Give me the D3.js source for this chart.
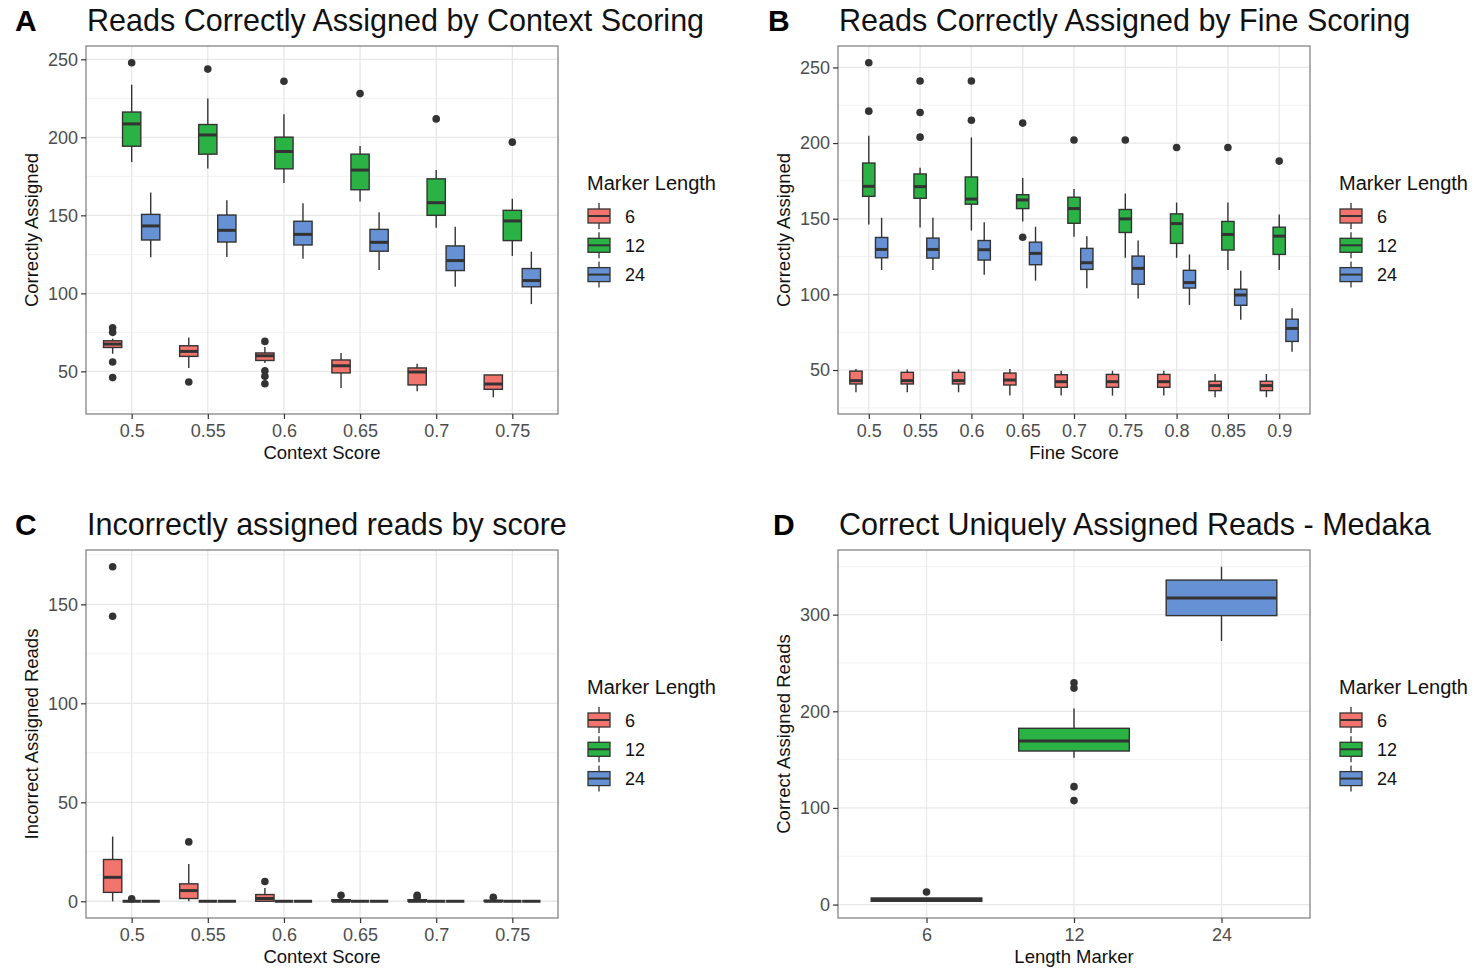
<!DOCTYPE html>
<html>
<head>
<meta charset="utf-8">
<script src="https://cdn.jsdelivr.net/npm/d3@7"></script>
<style>
body { margin: 0; background: #fff; }
text { font-family: "Liberation Sans", Arial, sans-serif; }
</style>
</head>
<body>
<svg id="chart" width="1476" height="969"></svg>
<script>
// categories
var contextScores = ["0.5", "0.55", "0.6", "0.65", "0.7", "0.75"];
var fineScores = ["0.5", "0.55", "0.6", "0.65", "0.7", "0.75", "0.8", "0.85", "0.9"];
var markerLengths = ["6", "12", "24"];

// box stats: [lower whisker, q1, median, q3, upper whisker]
// A - correctly assigned by context score
var ctxCorrect6 = [[61.3, 65.3, 67.5, 69.6, 70.9], [52.2, 59.6, 62.8, 66.4, 71.7], [55.4, 57, 60, 61.8, 65.6],
    [39.4, 49, 53.6, 57.3, 61.8], [37.2, 41.3, 49.6, 52.2, 54.9], [33.4, 38.5, 41.9, 47.7, 47.7]];
var ctxCorrect12 = [[184.1, 194.3, 208.6, 216.2, 233.7], [180, 189.2, 201.5, 208.2, 224.8], [170.8, 179.8, 190.9, 200.1, 214.8],
    [158.9, 166.4, 179, 189.2, 194.5], [142.1, 150, 158.1, 173.4, 179], [124, 133.8, 146.4, 153.2, 160.6]];
var ctxCorrect24 = [[123.1, 134.2, 143.2, 150.6, 164.7], [123.3, 132.9, 140.4, 150.2, 159.6], [122.1, 131, 137.8, 146.2, 157.7],
    [115, 127, 132.7, 141, 151.9], [104.3, 114.6, 121, 130.4, 142.7], [93.1, 104.2, 108.2, 115.9, 126.7]];
// outliers: [score, marker, value]
var ctxCorrectOut = [["0.5", "6", 78], ["0.5", "6", 75], ["0.5", "6", 56], ["0.5", "6", 46], ["0.55", "6", 43.2],
    ["0.6", "6", 69.2], ["0.6", "6", 50.4], ["0.6", "6", 46.8], ["0.6", "6", 42.1],
    ["0.5", "12", 247.8], ["0.55", "12", 243.7], ["0.6", "12", 235.9], ["0.65", "12", 228], ["0.7", "12", 211.8], ["0.75", "12", 196.9]];

// B - correctly assigned by fine score
var fineCorrect6 = [[35.3, 40.8, 43, 49.3, 50.7], [35.3, 40.8, 43, 48.5, 50.4], [35.3, 40.8, 43, 48.5, 50.4],
    [33.1, 40.1, 43.4, 48, 50.7], [33.1, 38.6, 42.3, 46.9, 49.5], [33.1, 38.6, 42.3, 47.1, 49.5],
    [33.1, 38.6, 42.3, 47.1, 49.5], [32, 36.4, 39.7, 42.6, 47.4], [32, 36.4, 39.7, 42.6, 47.4]];
var fineCorrect12 = [[146.2, 164.8, 171.4, 186.8, 204.8], [144.2, 163.5, 171.2, 179.6, 183.7], [142.2, 159.6, 163, 177.6, 203.7],
    [148.2, 156.7, 162.4, 165.9, 176.9], [138.1, 147, 156.7, 164.2, 169.7], [124.2, 140.9, 149.9, 156.1, 166.6],
    [124.2, 133.7, 146.8, 153.2, 160.7], [116.1, 129.3, 139.6, 148.2, 160.7], [116.1, 126.4, 138.5, 144.4, 152.8]];
var fineCorrect24 = [[116.1, 124.2, 129.7, 137.6, 150.6], [116.1, 124, 129.7, 137.2, 150.6], [113, 122.7, 129.5, 135.6, 147.7],
    [109.1, 119.6, 127.1, 134.5, 144.7], [104, 116.5, 120.9, 130.4, 138.5], [97.2, 106.7, 117.2, 125.3, 135.6],
    [93, 104.2, 107.8, 115.9, 126.4], [83.2, 92.8, 99.6, 103.4, 115.7], [62.1, 68.9, 77.5, 83.6, 90.8]];
var fineCorrectOut = [["0.5", "12", 253.1], ["0.5", "12", 221.1], ["0.55", "12", 241], ["0.55", "12", 220.2], ["0.55", "12", 203.9],
    ["0.6", "12", 241], ["0.6", "12", 215.1], ["0.65", "12", 213.2], ["0.65", "12", 137.8], ["0.7", "12", 202],
    ["0.75", "12", 202], ["0.8", "12", 197.1], ["0.85", "12", 197.1], ["0.9", "12", 188.1]];

// C - incorrectly assigned by context score
var ctxWrong6 = [[0, 4.5, 12.1, 21.1, 32.7], [0, 1.4, 5.4, 8.8, 18.8], [0, 0, 1.4, 3.4, 6.7],
    [0, 0, 0, 0.8, 1.5], [0, 0, 0, 0.8, 1.5], [0, 0, 0, 0.5, 1]];
var ctxWrong12 = [[0, 0, 0, 0, 0], [0, 0, 0, 0, 0], [0, 0, 0, 0, 0], [0, 0, 0, 0, 0], [0, 0, 0, 0, 0], [0, 0, 0, 0, 0]];
var ctxWrong24 = [[0, 0, 0, 0, 0], [0, 0, 0, 0, 0], [0, 0, 0, 0, 0], [0, 0, 0, 0, 0], [0, 0, 0, 0, 0], [0, 0, 0, 0, 0]];
var ctxWrongOut = [["0.5", "6", 169], ["0.5", "6", 144], ["0.5", "12", 1.2], ["0.55", "6", 30], ["0.6", "6", 10],
    ["0.65", "6", 3], ["0.7", "6", 3], ["0.7", "6", 2], ["0.75", "6", 2]];

// D - correct uniquely assigned, medaka (one box per marker length)
var medakaStats = [[3.4, 3.4, 5.2, 6.8, 6.8], [152, 158.9, 169.3, 182.4, 202.8], [272.7, 299, 317.2, 335.8, 349.6]];
var medakaOut = [["6", "6", 13], ["12", "12", 229.6], ["12", "12", 224], ["12", "12", 122], ["12", "12", 107.6]];

// tick labels
var ticksA = [50, 100, 150, 200, 250];
var ticksB = [50, 100, 150, 200, 250];
var ticksC = [0, 50, 100, 150];
var ticksD = [0, 100, 200, 300];

var fills = ["#F2756D", "#2BB244", "#6691D4"];
var dark = "#333333";

var svg = d3.select("#chart");
svg.append("rect").attr("width", 1476).attr("height", 969).attr("fill", "#fff");

function drawPanel(o) {
    var left = o.left, top = o.top, w = 472, h = 368;
    var g = svg.append("g");

    var allVals = [];
    o.series.forEach(s => s.forEach(b => allVals.push(b[0], b[4])));
    o.outliers.forEach(p => allVals.push(p[2]));
    var lo = d3.min(allVals), hi = d3.max(allVals), pad = (hi - lo) * 0.05;

    var y = d3.scaleLinear().domain([lo - pad, hi + pad]).range([top + h, top]);
    var x = d3.scalePoint().domain(o.categories).range([left, left + w]).padding(0.6);
    var step = x.step();

    // grid
    var minor = [];
    for (var i = 0; i < o.ticks.length + 1; i++) {
        var t0 = o.ticks[0] + (i - 0.5) * (o.ticks[1] - o.ticks[0]);
        if (t0 > y.domain()[0] && t0 < y.domain()[1]) minor.push(t0);
    }
    g.selectAll(".minor").data(minor).enter().append("line")
        .attr("x1", left).attr("x2", left + w).attr("y1", d => y(d)).attr("y2", d => y(d))
        .attr("stroke", "#f2f2f2").attr("stroke-width", 1);
    g.selectAll(".major").data(o.ticks).enter().append("line")
        .attr("x1", left).attr("x2", left + w).attr("y1", d => y(d)).attr("y2", d => y(d))
        .attr("stroke", "#e8e8e8").attr("stroke-width", 1.3);
    g.selectAll(".vmajor").data(o.categories).enter().append("line")
        .attr("x1", d => x(d)).attr("x2", d => x(d)).attr("y1", top).attr("y2", top + h)
        .attr("stroke", "#e8e8e8").attr("stroke-width", 1.3);

    // boxes
    var boxes = [];
    o.series.forEach((s, si) => s.forEach((b, ci) => {
        var gi = o.dodge ? si : ci;
        var off = o.dodge ? (si - 1) * 0.25 * step : 0;
        boxes.push({cx: x(o.categories[ci]) + off, bw: o.dodge ? 0.24 * step : 0.75 * step, s: b, fill: fills[gi]});
    }));

    var bg = g.selectAll(".box").data(boxes).enter().append("g");
    bg.append("line").attr("x1", d => d.cx).attr("x2", d => d.cx)
        .attr("y1", d => y(d.s[4])).attr("y2", d => y(d.s[3])).attr("stroke", dark).attr("stroke-width", 1.4);
    bg.append("line").attr("x1", d => d.cx).attr("x2", d => d.cx)
        .attr("y1", d => y(d.s[1])).attr("y2", d => y(d.s[0])).attr("stroke", dark).attr("stroke-width", 1.4);
    bg.append("rect").attr("x", d => d.cx - d.bw / 2).attr("width", d => d.bw)
        .attr("y", d => y(d.s[3])).attr("height", d => y(d.s[1]) - y(d.s[3]))
        .attr("fill", d => d.fill).attr("stroke", dark).attr("stroke-width", 1.4);
    bg.append("line").attr("x1", d => d.cx - d.bw / 2).attr("x2", d => d.cx + d.bw / 2)
        .attr("y1", d => y(d.s[2])).attr("y2", d => y(d.s[2])).attr("stroke", dark).attr("stroke-width", 3);

    // outliers
    g.selectAll(".out").data(o.outliers).enter().append("circle")
        .attr("cx", d => x(d[0]) + (o.dodge ? (markerLengths.indexOf(d[1]) - 1) * 0.25 * step : 0))
        .attr("cy", d => y(d[2])).attr("r", 3.8).attr("fill", dark);

    // border
    g.append("rect").attr("x", left).attr("y", top).attr("width", w).attr("height", h)
        .attr("fill", "none").attr("stroke", "#7a7a7a").attr("stroke-width", 1.2);

    // axes
    var yAxis = g.append("g").attr("transform", `translate(${left},0)`)
        .call(d3.axisLeft(y).tickValues(o.ticks).tickSize(5).tickPadding(3));
    var xAxis = g.append("g").attr("transform", `translate(0,${top + h})`)
        .call(d3.axisBottom(x).tickSize(5).tickPadding(5));
    [yAxis, xAxis].forEach(a => {
        a.select(".domain").remove();
        a.selectAll(".tick line").attr("stroke", dark).attr("stroke-width", 1.2);
        a.selectAll(".tick text").attr("fill", "#4d4d4d").attr("font-size", "18px")
            .attr("font-family", "Liberation Sans, Arial, sans-serif");
    });

    // titles
    g.append("text").attr("x", left + w / 2).attr("y", top + h + 45).attr("text-anchor", "middle")
        .attr("font-size", "18.5px").attr("fill", "#111").text(o.xTitle);
    g.append("text").attr("transform", "rotate(-90)").attr("x", -(top + h / 2)).attr("y", left - 48)
        .attr("text-anchor", "middle").attr("font-size", "18.5px").attr("fill", "#111").text(o.yTitle);
    g.append("text").attr("x", left + 1).attr("y", top - 15).attr("font-size", "30.5px")
        .attr("fill", "#111").text(o.title);
    g.append("text").attr("x", o.letterX).attr("y", top - 15).attr("font-size", "30px")
        .attr("font-weight", "bold").attr("fill", "#000").text(o.letter);

    // legend
    var lx = left + w + 29;
    var leg = g.append("g");
    leg.append("text").attr("x", lx).attr("y", top + 144).attr("font-size", "20px").attr("fill", "#111")
        .text("Marker Length");
    markerLengths.forEach((m, i) => {
        var cy = top + 170 + i * 29.3;
        leg.append("line").attr("x1", lx + 12).attr("x2", lx + 12).attr("y1", cy - 13).attr("y2", cy + 13)
            .attr("stroke", dark).attr("stroke-width", 1.3);
        leg.append("rect").attr("x", lx + 1).attr("y", cy - 7).attr("width", 22).attr("height", 14)
            .attr("fill", fills[i]).attr("stroke", dark).attr("stroke-width", 1.3);
        leg.append("line").attr("x1", lx + 1).attr("x2", lx + 23).attr("y1", cy).attr("y2", cy)
            .attr("stroke", dark).attr("stroke-width", 2);
        leg.append("text").attr("x", lx + 38).attr("y", cy + 6.5).attr("font-size", "18px").attr("fill", "#111")
            .text(m);
    });
}

drawPanel({left: 86, top: 46, categories: contextScores, series: [ctxCorrect6, ctxCorrect12, ctxCorrect24],
    outliers: ctxCorrectOut, ticks: ticksA, dodge: true, letter: "A", letterX: 15,
    title: "Reads Correctly Assigned by Context Scoring", xTitle: "Context Score", yTitle: "Correctly Assigned"});
drawPanel({left: 838, top: 46, categories: fineScores, series: [fineCorrect6, fineCorrect12, fineCorrect24],
    outliers: fineCorrectOut, ticks: ticksB, dodge: true, letter: "B", letterX: 768,
    title: "Reads Correctly Assigned by Fine Scoring", xTitle: "Fine Score", yTitle: "Correctly Assigned"});
drawPanel({left: 86, top: 550, categories: contextScores, series: [ctxWrong6, ctxWrong12, ctxWrong24],
    outliers: ctxWrongOut, ticks: ticksC, dodge: true, letter: "C", letterX: 15,
    title: "Incorrectly assigned reads by score", xTitle: "Context Score", yTitle: "Incorrect Assigned Reads"});
drawPanel({left: 838, top: 550, categories: markerLengths, series: [medakaStats],
    outliers: medakaOut, ticks: ticksD, dodge: false, letter: "D", letterX: 773,
    title: "Correct Uniquely Assigned Reads - Medaka", xTitle: "Length Marker", yTitle: "Correct Assigned Reads"});
</script>
</body>
</html>
